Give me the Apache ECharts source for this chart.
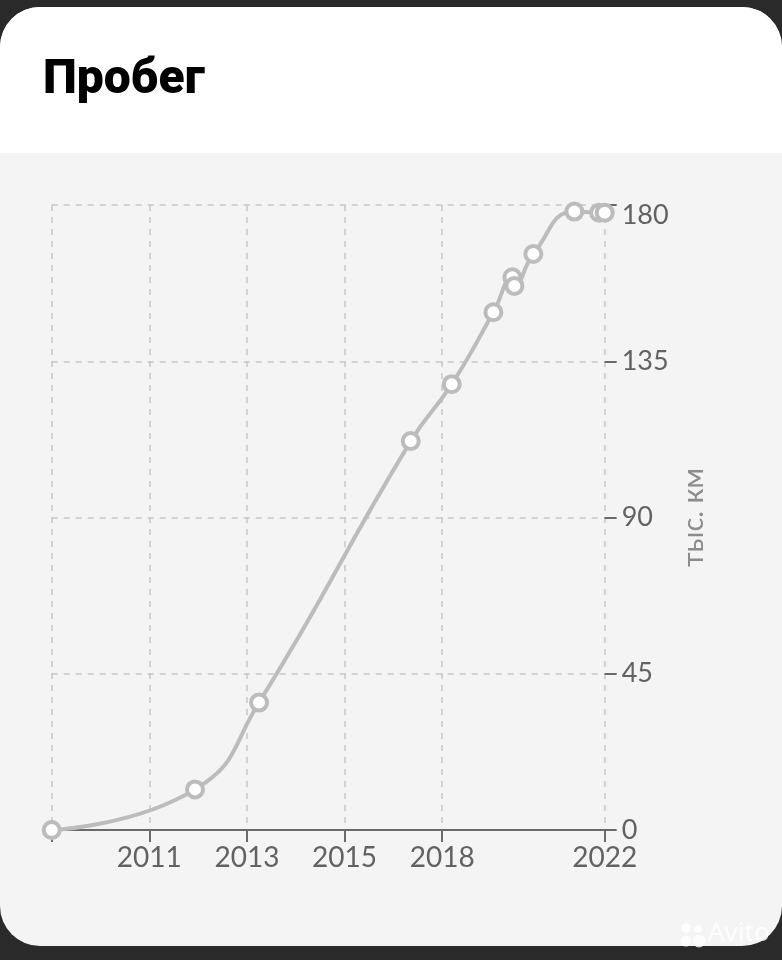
<!DOCTYPE html>
<html>
<head>
<meta charset="utf-8">
<script src="https://cdn.jsdelivr.net/npm/echarts@6/dist/echarts.min.js"></script>
<style>
  html, body { margin: 0; padding: 0; width: 782px; height: 960px; background: #2a2a2a; overflow: hidden; }
  #card { position: absolute; left: 0; top: 7px; width: 782px; height: 939px; border-radius: 40px; overflow: hidden; background: #f4f4f4; }
  #cardTop { position: absolute; left: 0; top: 0; width: 782px; height: 146px; background: #ffffff; }
  #chart { position: absolute; left: 0; top: 0; width: 782px; height: 960px; }
</style>
</head>
<body>
<div id="card"><div id="cardTop"></div></div>
<div id="chart"></div>
<script>
// X axis: positions measured in grid-cell units (the reference axis is not linear in years)
const xTicks = [0, 1, 2, 3, 4, 5.665];
const xTickLabels = ['', '2011', '2013', '2015', '2018', '2022'];
// Points: x position (same units) and mileage, thousand km
const pointX = [0, 1.468, 2.124, 3.678, 4.098, 4.525, 4.719, 4.740, 4.934, 5.354, 5.608, 5.665];
const mileage = [0, 11.7, 36.7, 112.0, 128.4, 149.1, 159.2, 156.7, 165.9, 178.1, 177.8, 177.8];
const yTicks = [0, 45, 90, 135, 180];
const titleText = 'Пробег';
const unitText = 'тыс. км';

const chart = echarts.init(document.getElementById('chart'), null, { renderer: 'canvas' });
const seriesData = pointX.map((x, i) => [x, mileage[i]]);

const wm = 'rgba(255,255,255,0.8)';
chart.setOption({
  backgroundColor: 'transparent',
  animation: false,
  title: {
    text: titleText,
    left: 38,
    top: 52,
    textStyle: { fontFamily: 'Roboto', fontWeight: 900, fontSize: 48, color: '#000000' }
  },
  grid: { left: 51.7, right: 177.3, top: 205, bottom: 130, outerBoundsMode: 'none' },
  xAxis: {
    type: 'value',
    min: xTicks[0],
    max: xTicks[xTicks.length - 1],
    axisLine: { show: true, onZero: false, lineStyle: { color: '#6a6a6a', width: 2 } },
    axisTick: { show: true, length: 12, lineStyle: { color: '#6a6a6a', width: 2 }, customValues: xTicks },
    axisLabel: {
      customValues: xTicks,
      margin: 14,
      fontFamily: 'Lato', fontSize: 28, color: '#626262',
      formatter: (v) => { const i = xTicks.findIndex(t => Math.abs(t - v) < 1e-6); return i >= 0 ? xTickLabels[i] : ''; }
    },
    splitLine: { show: true, lineStyle: { color: '#c6c6c6', width: 1.5, type: [6, 6] } }
  },
  yAxis: {
    type: 'value',
    position: 'right',
    min: yTicks[0],
    max: yTicks[yTicks.length - 1],
    interval: 45,
    name: unitText,
    nameLocation: 'middle',
    nameRotate: 90,
    nameGap: 63,
    nameTextStyle: { fontFamily: 'Lato', fontSize: 29, color: '#8c8c8c' },
    axisLine: { show: false, onZero: false },
    axisTick: { show: true, length: 12, lineStyle: { color: '#6a6a6a', width: 2 } },
    axisLabel: {
      margin: 17,
      fontFamily: 'Lato', fontSize: 27, color: '#626262',
      formatter: (v) => v === yTicks[yTicks.length - 1] ? '{top|' + v + '}' : String(v),
      rich: { top: { fontFamily: 'Lato', fontSize: 27, color: '#626262', padding: [20, 0, 0, 0] } }
    },
    splitLine: { show: true, lineStyle: { color: '#c6c6c6', width: 1.5, type: [6, 6] } }
  },
  graphic: [
    { type: 'circle', shape: { cx: 686, cy: 928, r: 5 }, style: { fill: wm } },
    { type: 'circle', shape: { cx: 698, cy: 929, r: 4 }, style: { fill: wm } },
    { type: 'circle', shape: { cx: 686, cy: 941, r: 5.5 }, style: { fill: wm } },
    { type: 'circle', shape: { cx: 699, cy: 941, r: 6.5 }, style: { fill: wm } },
    {
      type: 'text', left: 708, top: 921,
      style: { text: 'Avito', fontFamily: 'Noto Sans', fontSize: 26, fill: wm }
    }
  ],
  series: [{
    type: 'line',
    data: seriesData,
    smooth: 0.5,
    symbol: 'circle',
    symbolSize: 16,
    showAllSymbol: true,
    lineStyle: { color: '#bcbcbc', width: 4 },
    itemStyle: { color: '#ffffff', borderColor: '#bcbcbc', borderWidth: 4 },
    z: 5
  }]
});
</script>
</body>
</html>
